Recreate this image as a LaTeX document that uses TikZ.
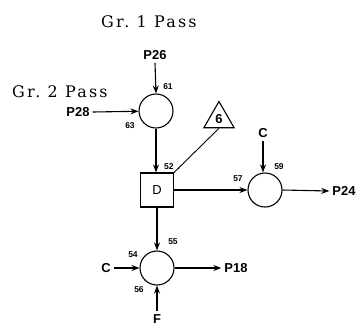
\documentclass[tikz,border=0pt]{standalone}
\usepackage{fontspec}
\usepackage{tikz}
\usetikzlibrary{shapes.geometric, arrows.meta, positioning}
\newfontfamily\streamfont{Liberation Sans}
\newfontfamily\capfont{DejaVu Serif}[LetterSpace=14]

\begin{document}
\begin{tikzpicture}[
    x=1bp, y=-1bp,
    >={Stealth[length=8bp, width=6bp]},
    junction/.style={circle, draw, line width=1.1pt, minimum size=34bp, inner sep=0pt},
    unit/.style={rectangle, draw, line width=1.1pt, minimum width=33bp, minimum height=34bp, inner sep=0pt, font=\streamfont\fontsize{13}{13}\selectfont},
    marker/.style={regular polygon, regular polygon sides=3, draw, line width=1.1pt, minimum size=35bp, inner sep=0pt, font=\streamfont\bfseries\fontsize{13}{13}\selectfont},
    stream/.style={inner sep=3pt, font=\streamfont\bfseries\fontsize{13}{13}\selectfont},
    tag/.style={inner sep=0pt, font=\streamfont\bfseries\fontsize{8.5}{8.5}\selectfont},
    caption/.style={inner sep=0pt, anchor=base west, font=\capfont\fontsize{16}{16}\selectfont},
    arrow/.style={->, line width=1.1pt},
    link/.style={line width=0.9pt},
]
\useasboundingbox (0,0) rectangle (364,327);

% --- Pass captions ---
\node[caption] (gr1) at (101,27) {Gr.\ 1\ Pass};
\node[caption] (gr2) at (12,97) {Gr.\ 2\ Pass};

% --- Units ---
\node[junction] (c1) at (156,111) {};
\node[unit] (d) at (157,190) {D};
\node[junction] (c2) at (265,190) {};
\node[junction] (c3) at (157,268) {};
\node[marker] (tri) at (219,119) {6};

% --- Streams ---
\node[stream] (p26) at (155,55) {P26};
\node[stream] (p28) at (78,112) {P28};
\node[stream] (cin2) at (263,133) {C};
\node[stream] (p24) at (344,191) {P24};
\node[stream] (cin3) at (106,268) {C};
\node[stream] (p18) at (236,268) {P18};
\node[stream] (fin) at (157,319) {F};

% --- Tags ---
\node[tag] (t61) at (168,87) {61};
\node[tag] (t63) at (130,126) {63};
\node[tag] (t52) at (172,167) {52\hspace{4pt}.};
\node[tag] (t57) at (238,179) {57};
\node[tag] (t59) at (279,167) {59};
\node[tag] (t55) at (173,242) {55};
\node[tag] (t54) at (133,255) {54};
\node[tag] (t56) at (139,290) {56};

% --- Connectors ---
\draw[arrow] (p26.south) -- (c1.north);
\draw[arrow] (p28.east) -- (c1);
\draw[arrow] (c1.south) -- (d.north -| c1.south);
\draw[link] (tri.south) -- (d.north east);
\draw[arrow] (d.east) -- (c2.west);
\draw[arrow] (cin2.south) -- (c2.north -| cin2.south);
\draw[arrow] (c2.east) -- (p24.west);
\draw[arrow] (d.south) -- (c3.north);
\draw[arrow] (cin3.east) -- (c3.west);
\draw[arrow] (c3.east) -- (p18.west);
\draw[arrow] (fin.north) -- (c3.south);

\end{tikzpicture}
\end{document}
